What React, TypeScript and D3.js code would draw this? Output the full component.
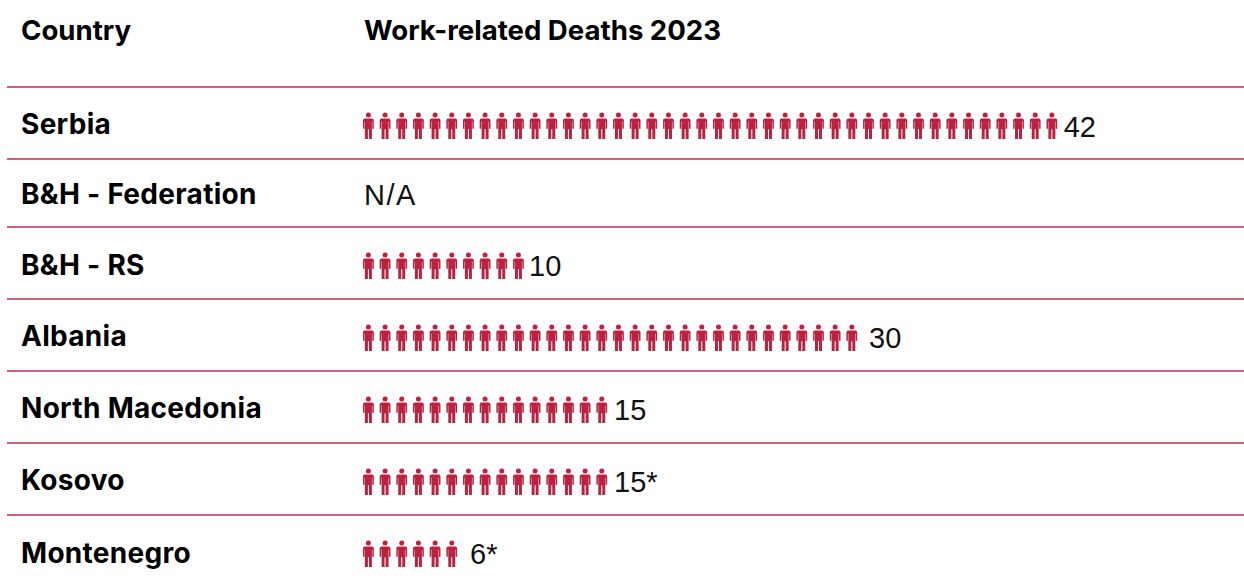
import React from "react";
import * as d3 from "d3";

// Work-related deaths per country, one pictogram per person.
const countries = ["Serbia", "B&H - Federation", "B&H - RS", "Albania", "North Macedonia", "Kosovo", "Montenegro"];
const deaths: (number | null)[] = [42, null, 10, 30, 15, 15, 6];
const valueLabels = ["42", "N/A", "10", "30", "15", "15*", "6*"];
const headers = ["Country", "Work-related Deaths 2023"];

const WIDTH = 1244;
const HEIGHT = 580;
const RED = "#b9233f";
const RULE = "#c96577";
const FONT = "Inter, 'Noto Sans', sans-serif";
const VALUE_FONT = "'Liberation Sans', Arial, sans-serif";

// Horizontal rule above each row, and the baseline of its texts.
const ruleY = [87, 159, 227, 299, 371, 443, 515];
const labelBase = [134, 204, 275, 346, 418, 490, 563];
const valueBase = [137, 205, 276, 348, 420, 492, 564];
const iconBottom = [139, 210, 279, 351, 423, 495, 567];
const valueGap = [0.5, 0, -0.7, 6, 1, 1, 7];

const unit = d3.scaleLinear().domain([0, 42]).range([363, 363 + 42 * 16.67]);

const personBody =
  "M-3.5 3.4H3.5Q5.4 3.4 5.4 5.3V13.8H3.9V6.6H3.5V24H0.5V14.2H-0.5V24H-3.5V6.6H-3.9V13.8H-5.4V5.3Q-5.4 3.4 -3.5 3.4Z";

function Person({ x, bottom }: { x: number; bottom: number }) {
  return (
    <g transform={`translate(${x + 5.4},${bottom - 24})`} fill={RED}>
      <circle r={2.5} />
      <path d={personBody} />
    </g>
  );
}

export default function App() {
  return (
    <svg
      width={WIDTH}
      height={HEIGHT}
      style={{ position: "absolute", left: 0, top: 0, background: "#fff" }}
      fontFamily={FONT}
    >
      <text x={21} y={40} fontSize={27.6} fontWeight={700} fill="#000">{headers[0]}</text>
      <text x={364} y={40} fontSize={27.6} fontWeight={700} fill="#000">{headers[1]}</text>
      {countries.map((name, r) => {
        const n = deaths[r];
        const valueX = n == null ? 364 : unit(n) + valueGap[r];
        return (
          <g key={name}>
            <line x1={7} x2={WIDTH} y1={ruleY[r]} y2={ruleY[r]} stroke={RULE} strokeWidth={2} />
            <text x={21} y={labelBase[r]} fontSize={28} fontWeight={700} letterSpacing={0.3} fill="#000">{name}</text>
            {d3.range(n ?? 0).map((i) => (
              <Person key={i} x={unit(i)} bottom={iconBottom[r]} />
            ))}
            <text
              x={valueX}
              y={valueBase[r]}
              fontFamily={VALUE_FONT}
              fontSize={29}
              fontWeight={400}
              fill="#111"
              letterSpacing={n == null ? 1.5 : 0}
            >
              {valueLabels[r]}
            </text>
          </g>
        );
      })}
    </svg>
  );
}
